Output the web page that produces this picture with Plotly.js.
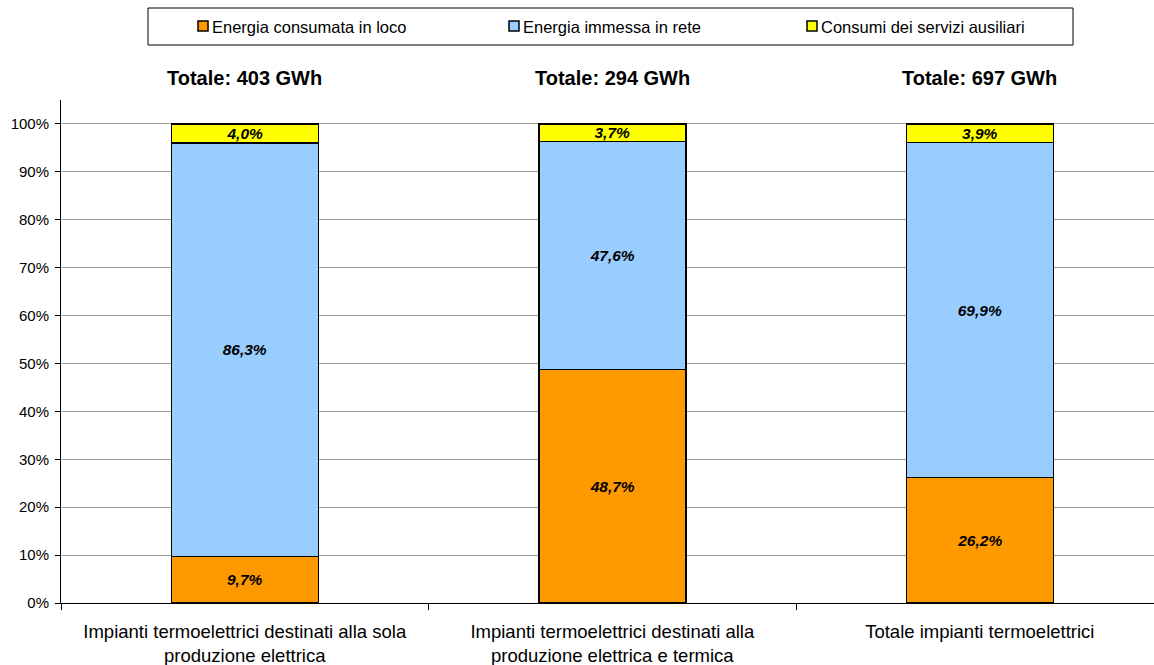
<!DOCTYPE html>
<html>
<head>
<meta charset="utf-8">
<script src="https://cdn.plot.ly/plotly-3.0.1.min.js"></script>
<style>html,body{margin:0;padding:0;background:#fff;}#chart{width:1154px;height:665px;}</style>
</head>
<body>
<div id="chart"></div>
<script>
const categories = [
  "Impianti termoelettrici destinati alla sola<br>produzione elettrica",
  "Impianti termoelettrici destinati alla<br>produzione elettrica e termica",
  "Totale impianti termoelettrici"
];
const seriesNames = ["Energia consumata in loco", "Energia immessa in rete", "Consumi dei servizi ausiliari"];
const consumataInLoco = [9.7, 48.7, 26.2];
const immessaInRete = [86.3, 47.6, 69.9];
const serviziAusiliari = [4.0, 3.7, 3.9];
const totaliGWh = [403, 294, 697];
const colors = ["#FF9900", "#99CCFF", "#FFFF00"];

const FONT = 'Liberation Sans, Arial, sans-serif';
const fmt = v => v.toFixed(1).replace('.', ',') + '%';
const seriesVals = [consumataInLoco, immessaInRete, serviziAusiliari];

const traces = seriesVals.map((vals, i) => ({
  type: 'bar',
  name: seriesNames[i],
  x: categories,
  y: vals,
  text: vals.map(fmt),
  textposition: 'inside',
  insidetextanchor: 'middle',
  constraintext: 'none',
  textangle: 0,
  textfont: {family: FONT, size: 15.5, color: '#000', weight: 'bold', style: 'italic'},
  hoverinfo: 'none',
  marker: {color: colors[i], line: {color: '#000', width: 1.5}},
  width: 0.4,
  showlegend: false
}));

// plot area in pixels: left 61, width 1093; top 100, height 503
const px2x = p => (p - 61) / 1093;
const px2y = p => (603 - p) / 503;

const annotations = categories.map((c, i) => ({
  x: c, xref: 'x', y: px2y(78), yref: 'paper',
  text: '<b>Totale: ' + totaliGWh[i] + ' GWh</b>',
  showarrow: false, xanchor: 'center', yanchor: 'middle',
  font: {family: FONT, size: 20, color: '#000'}
}));

// hand-drawn legend (box + swatches + labels)
const legendSwatchLeft = [198, 509, 807];
const shapes = [{
  type: 'rect', xref: 'paper', yref: 'paper',
  x0: px2x(148), x1: px2x(1073), y0: px2y(8), y1: px2y(45),
  line: {color: '#000', width: 1}, fillcolor: 'rgba(0,0,0,0)'
}];
seriesNames.forEach((n, i) => {
  shapes.push({
    type: 'rect', xref: 'paper', yref: 'paper',
    x0: px2x(legendSwatchLeft[i]), x1: px2x(legendSwatchLeft[i] + 10),
    y0: px2y(21), y1: px2y(31),
    line: {color: '#000', width: 1.5}, fillcolor: colors[i]
  });
  annotations.push({
    x: px2x(legendSwatchLeft[i] + 12), xref: 'paper', y: px2y(26.5), yref: 'paper',
    text: n, showarrow: false, xanchor: 'left', yanchor: 'middle',
    font: {family: FONT, size: 16.5, color: '#000'}
  });
});

const layout = {
  width: 1154, height: 665,
  margin: {l: 61, r: 0, t: 100, b: 62, pad: 0},
  paper_bgcolor: '#fff', plot_bgcolor: '#fff',
  barmode: 'stack',
  font: {family: FONT, color: '#000'},
  showlegend: false,
  xaxis: {
    type: 'category', range: [-0.5, 2.474],
    showline: true, linecolor: '#000', linewidth: 1,
    ticks: 'outside', tickson: 'boundaries', ticklen: 6, tickcolor: '#000',
    ticklabelstandoff: 12,
    tickfont: {size: 18.5, color: '#000'}, showgrid: false, zeroline: false,
    fixedrange: true
  },
  yaxis: {
    range: [0, 105], dtick: 10, tick0: 0, ticksuffix: '%',
    showline: true, linecolor: '#000', linewidth: 1,
    ticks: 'outside', ticklen: 5, tickcolor: '#000',
    ticklabelstandoff: 3,
    tickfont: {size: 15, color: '#000'},
    showgrid: true, gridcolor: '#A0A0A0', gridwidth: 1, zeroline: false,
    fixedrange: true
  },
  shapes: shapes,
  annotations: annotations
};

Plotly.newPlot('chart', traces, layout, {displayModeBar: false, staticPlot: true});
</script>
</body>
</html>
